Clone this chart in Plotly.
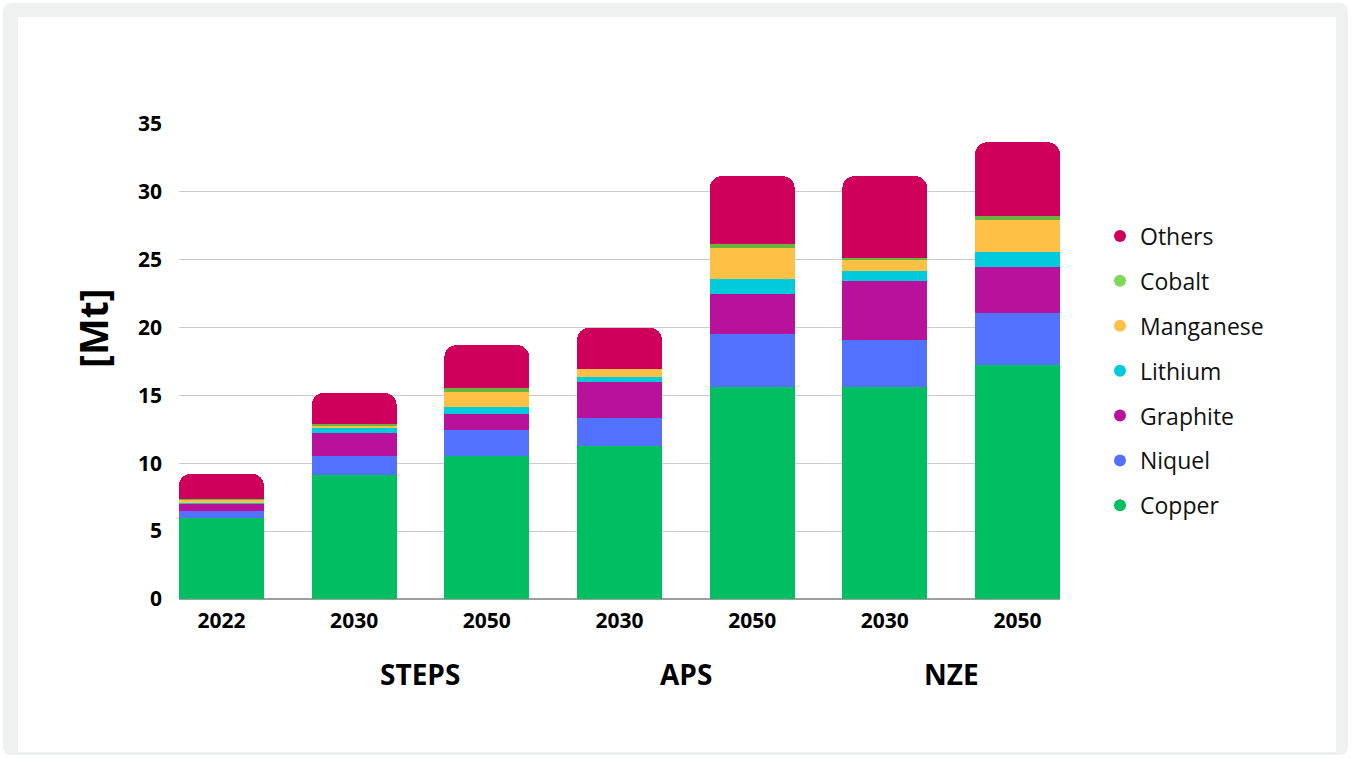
import plotly.graph_objects as go

years = ["2022", "2030", "2050", "2030", "2050", "2030", "2050"]
scenarios = ["STEPS", "APS", "NZE"]
scenario_pos = [1.5, 3.5, 5.5]

copper = [6.0, 9.15, 10.55, 11.3, 15.6, 15.6, 17.25]
niquel = [0.5, 1.4, 1.9, 2.05, 3.9, 3.5, 3.85]
graphite = [0.5, 1.7, 1.2, 2.65, 3.0, 4.3, 3.4]
lithium = [0.1, 0.35, 0.5, 0.35, 1.1, 0.8, 1.1]
manganese = [0.25, 0.15, 1.1, 0.6, 2.25, 0.85, 2.3]
cobalt = [0.03, 0.13, 0.3, 0.03, 0.3, 0.05, 0.3]
others = [1.85, 2.3, 3.15, 3.0, 5.0, 6.05, 5.45]

series = [
    ("Copper", copper, "#00BF63", "#00BF63"),
    ("Niquel", niquel, "#5271FF", "#5271FF"),
    ("Graphite", graphite, "#B8129C", "#B8129C"),
    ("Lithium", lithium, "#00CBDD", "#00CBDD"),
    ("Manganese", manganese, "#FFC145", "#FFC145"),
    ("Cobalt", cobalt, "#69B43E", "#7ED957"),
    ("Others", others, "#CF005C", "#CF005C"),
]

x = list(range(len(years)))
FONT = "Open Sans"

fig = go.Figure()
for name, vals, col, lcol in series:
    fig.add_trace(go.Bar(x=x, y=vals, name=name, marker=dict(color=col, line=dict(width=0)),
                         width=0.64, showlegend=False))
# legend entries (circle markers), top to bottom: Others ... Copper
for name, vals, col, lcol in reversed(series):
    fig.add_trace(go.Scatter(x=[None], y=[None], mode="markers", name=name, legendgroup=name,
                             marker=dict(symbol="circle", size=16, color=lcol)))

# plot area in pixels
L, R, T, B = 179, 1060, 124, 599
W, H = 1351, 758
pw, ph = R - L, B - T

def px(xp):
    return (xp - L) / pw

def py(yp):
    return (B - yp) / ph

# outer frame: gray rounded rect, white inner rect
x0, x1, y0, y1, r = 3, 1348, 3, 755, 9
path = (f"M {px(x0 + r)} {py(y0)} L {px(x1 - r)} {py(y0)} Q {px(x1)} {py(y0)} {px(x1)} {py(y0 + r)} "
        f"L {px(x1)} {py(y1 - r)} Q {px(x1)} {py(y1)} {px(x1 - r)} {py(y1)} "
        f"L {px(x0 + r)} {py(y1)} Q {px(x0)} {py(y1)} {px(x0)} {py(y1 - r)} "
        f"L {px(x0)} {py(y0 + r)} Q {px(x0)} {py(y0)} {px(x0 + r)} {py(y0)} Z")
shapes = [
    dict(type="path", xref="paper", yref="paper", path=path, fillcolor="#EFF1F0",
         line=dict(width=0), layer="below"),
    dict(type="rect", xref="paper", yref="paper", x0=px(18), x1=px(1336), y0=py(17), y1=py(752),
         fillcolor="white", line=dict(width=0), layer="below"),
]

annotations = [
    dict(text="<b>[Mt]</b>", xref="paper", yref="paper", x=px(92), y=py(328), textangle=-90,
         showarrow=False, font=dict(family=FONT, size=39, color="black"), xanchor="center", yanchor="middle"),
]
for s, p in zip(scenarios, scenario_pos):
    annotations.append(dict(text=f"<b>{s}</b>", x=p, xref="x", yref="paper", y=py(674), showarrow=False,
                            font=dict(family=FONT, size=28, color="black"), xanchor="center", yanchor="middle"))

fig.update_layout(
    width=W, height=H,
    margin=dict(l=L, r=W - R, t=T, b=H - B, pad=0),
    barmode="stack",
    barcornerradius=12,
    paper_bgcolor="white",
    plot_bgcolor="rgba(0,0,0,0)",
    font=dict(family=FONT, color="black"),
    shapes=shapes,
    annotations=annotations,
    showlegend=True,
    legend=dict(x=px(1100), y=py(371), xanchor="left", yanchor="middle", traceorder="grouped",
                tracegroupgap=12, font=dict(family=FONT, size=23, color="#111"),
                bgcolor="rgba(0,0,0,0)", itemsizing="constant", itemwidth=30),
    xaxis=dict(range=[-0.32, 6.32], tickmode="array", tickvals=x, ticktext=[f"<b>{y}</b>" for y in years],
               tickfont=dict(family=FONT, size=21, color="black"), showgrid=False, zeroline=False,
               showline=False, ticks="", ticklabelstandoff=7, fixedrange=True),
    yaxis=dict(range=[0, 35], tickmode="array", tickvals=[0, 5, 10, 15, 20, 25, 30, 35],
               ticktext=[f"<b>{v}</b>" for v in [0, 5, 10, 15, 20, 25, 30, 35]],
               tickfont=dict(family=FONT, size=21, color="black"), showgrid=True, gridcolor="#CCCCCC",
               gridwidth=1, zeroline=True, zerolinecolor="#9E9E9E", zerolinewidth=2, showline=False,
               ticks="", ticklabelstandoff=16, fixedrange=True),
)

fig.write_html("out.html")
